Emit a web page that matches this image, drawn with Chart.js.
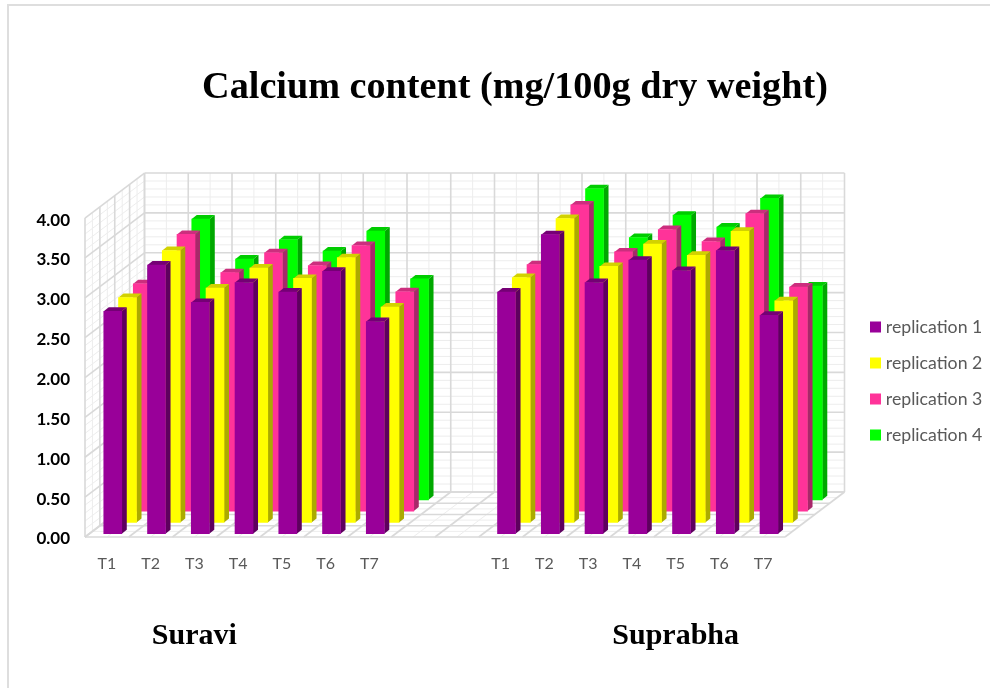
<!DOCTYPE html>
<html>
<head>
<meta charset="utf-8">
<style>html,body{margin:0;padding:0;background:#fff}canvas{display:block}</style>
<script src="https://cdn.jsdelivr.net/npm/chart.js@4"></script>
</head>
<body>
<canvas id="c" width="990" height="688"></canvas>
<script>
const titleText = 'Calcium content (mg/100g dry weight)';
const treatments = ['T1','T2','T3','T4','T5','T6','T7'];
const gapLabels = ['',''];
const seriesNames = ['replication 1','replication 2','replication 3','replication 4'];
const suraviR1 = [2.79,3.37,2.90,3.15,3.03,3.29,2.66];
const suraviR2 = [2.82,3.41,2.94,3.19,3.06,3.32,2.70];
const suraviR3 = [2.85,3.47,2.99,3.24,3.08,3.33,2.75];
const suraviR4 = [2.89,3.52,3.02,3.26,3.12,3.37,2.77];
const suprabhaR1 = [3.03,3.75,3.15,3.43,3.30,3.55,2.74];
const suprabhaR2 = [3.07,3.81,3.21,3.49,3.35,3.65,2.78];
const suprabhaR3 = [3.09,3.84,3.25,3.53,3.38,3.73,2.81];
const suprabhaR4 = [3.13,3.90,3.29,3.57,3.42,3.78,2.68];
const gapValues = [null,null];
const yTicksMax = 4;
const yStep = 0.5;
const groups = [['Suravi',2],['Suprabha',13]];

const frontColors = ['#990099','#FFFF00','#FF3399','#00FF00'];
const sideColors = ['#5E005E','#ABAB00','#A8286A','#00A800'];
const topColors = ['#750075','#D2D200','#CC2E7E','#00CC00'];

const categories = [...treatments, ...gapLabels, ...treatments];
const seriesValues = [
  [...suraviR1, ...gapValues, ...suprabhaR1],
  [...suraviR2, ...gapValues, ...suprabhaR2],
  [...suraviR3, ...gapValues, ...suprabhaR3],
  [...suraviR4, ...gapValues, ...suprabhaR4]
];

const FONT = 'Lato, "Open Sans", sans-serif';
const SERIF = '"Liberation Serif", serif';
const WALL_DX = 59.5, WALL_DY = -45;
const SER_DX = 14.75, SER_DY = -11.3, SER_X0 = 5.9, SER_Y0 = -3.3;
const BAR_DX = 5, BAR_DY = -4;

function line(ctx,x1,y1,x2,y2){ctx.beginPath();ctx.moveTo(x1,y1);ctx.lineTo(x2,y2);ctx.stroke();}
function poly(ctx,pts,color){ctx.fillStyle=color;ctx.beginPath();pts.forEach((p,i)=>i?ctx.lineTo(p[0],p[1]):ctx.moveTo(p[0],p[1]));ctx.closePath();ctx.fill();}

const scene3d = {
  id:'scene3d',
  beforeInit(chart){
    const lg = chart.legend, fit = lg.fit;
    lg.fit = function(){ fit.call(this); this.width = 205; };
  },
  afterLayout(chart){
    chart.titleBlock.left = 40; chart.titleBlock.right = 990;
    const l = chart.legend;
    l.left = 855.7; l.right = 990; l.top = 299.85;
  },
  beforeDraw(chart){
    const ctx = chart.ctx;
    ctx.save();
    ctx.fillStyle='#fff';ctx.fillRect(0,0,chart.width,chart.height);
    ctx.strokeStyle='#DEDEDE';ctx.lineWidth=2;
    line(ctx,8,5,8,688);line(ctx,7,5,990,5);
    ctx.restore();
  },
  beforeDatasetsDraw(chart){
    const ctx = chart.ctx, xs = chart.scales.x, ys = chart.scales.y;
    const L = xs.left, R = xs.right, B = ys.bottom, T = ys.top;
    const n = categories.length, cw = (R-L)/n;
    const minor = '#EDEDED', major = '#D9D9D9';
    ctx.save();
    const pass = (color,width,isMajor) => {
      ctx.strokeStyle=color;ctx.lineWidth=width;
      // horizontal levels on back and left walls
      for(let k=0;k<=yTicksMax*10;k++){
        if((k%5===0)!==isMajor) continue;
        const y = ys.getPixelForValue(k/10);
        line(ctx,L,y,L+WALL_DX,y+WALL_DY);
        line(ctx,L+WALL_DX,y+WALL_DY,R+WALL_DX,y+WALL_DY);
      }
      // verticals on back wall + floor
      for(let i=0;i<=n*2;i++){
        if((i%2===0)!==isMajor) continue;
        const x = L+i*cw/2;
        line(ctx,x+WALL_DX,T+WALL_DY,x+WALL_DX,B+WALL_DY);
        line(ctx,x,B,x+WALL_DX,B+WALL_DY);
      }
      // depth divisions on left wall + floor
      for(let d=0;d<=8;d++){
        if((d%2===0)!==isMajor) continue;
        const fx=L+WALL_DX*d/8, fy=WALL_DY*d/8;
        line(ctx,fx,T+fy,fx,B+fy);
        line(ctx,fx,B+fy,R+fx-L,B+fy);
      }
    };
    pass(minor,1,false);
    pass(major,1.6,true);
    ctx.restore();
  },
  beforeDatasetDraw(chart,args){
    const ctx = chart.ctx, s = args.index;
    ctx.save();
    ctx.translate(SER_X0+s*SER_DX, SER_Y0+s*SER_DY);
    args.meta.data.forEach((el,i)=>{
      if(seriesValues[s][i]==null) return;
      const p = el.getProps(['x','y','base','width'],true);
      const l=p.x-p.width/2, r=p.x+p.width/2;
      poly(ctx,[[r,p.y],[r+BAR_DX,p.y+BAR_DY],[r+BAR_DX,p.base+BAR_DY],[r,p.base]],sideColors[s]);
      poly(ctx,[[l,p.y],[l+BAR_DX,p.y+BAR_DY],[r+BAR_DX,p.y+BAR_DY],[r,p.y]],topColors[s]);
    });
  },
  afterDatasetDraw(chart){ chart.ctx.restore(); },
  afterDraw(chart){
    const ctx = chart.ctx, xs = chart.scales.x;
    ctx.save();
    ctx.fillStyle='#000';ctx.font='bold 30px '+SERIF;ctx.textAlign='center';ctx.textBaseline='middle';
    groups.forEach(g=>ctx.fillText(g[0],xs.getPixelForValue(g[1]),636));
    ctx.restore();
  }
};

new Chart(document.getElementById('c'),{
  type:'bar',
  data:{
    labels:categories,
    datasets:seriesNames.map((name,i)=>({
      label:name,
      data:seriesValues[i],
      backgroundColor:frontColors[i],
      borderWidth:0,
      grouped:false,
      barThickness:18,
      clip:false
    }))
  },
  options:{
    responsive:false,
    animation:false,
    events:[],
    layout:{padding:0},
    scales:{
      x:{
        grid:{display:false},
        border:{display:false},
        ticks:{autoSkip:false,maxRotation:0,minRotation:0,padding:9,color:'#595959',font:{family:FONT,size:16}},
        afterFit(s){s.height=151;}
      },
      y:{
        min:0,max:yTicksMax,
        grid:{display:false},
        border:{display:false},
        ticks:{stepSize:yStep,padding:7,labelOffset:2,color:'#000',font:{family:FONT,size:17,weight:'bold'},callback:v=>Number(v).toFixed(2)},
        afterFit(s){s.width=85;}
      }
    },
    plugins:{
      title:{display:true,text:titleText,color:'#000',font:{family:SERIF,size:38.2,weight:'bold'},padding:{top:65,bottom:107.2}},
      legend:{
        display:true,position:'right',align:'start',
        labels:{usePointStyle:true,pointStyle:'rect',boxWidth:3,boxHeight:11,padding:18.3,color:'#595959',font:{family:FONT,size:17.7}}
      },
      tooltip:{enabled:false}
    }
  },
  plugins:[scene3d]
});
</script>
</body>
</html>
